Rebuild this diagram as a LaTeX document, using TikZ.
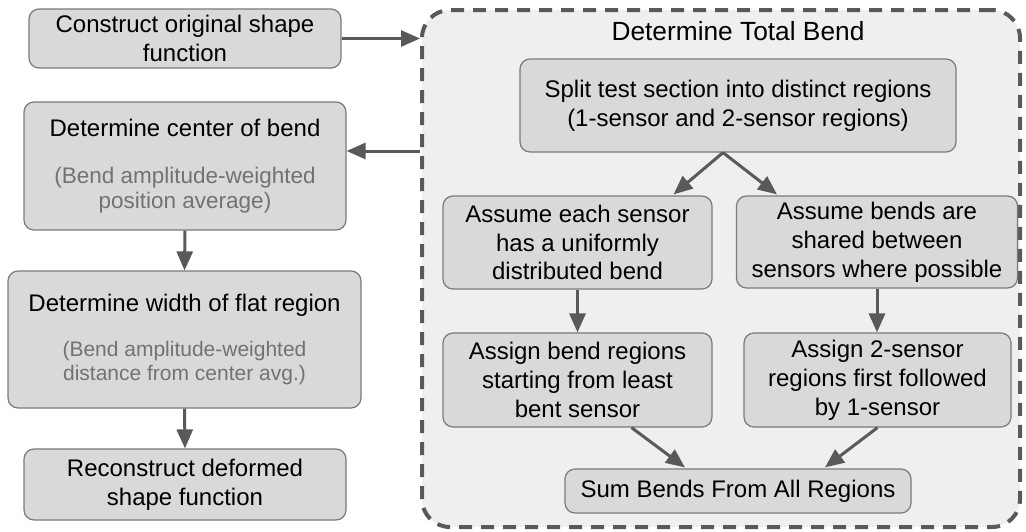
\documentclass[tikz,border=0pt]{standalone}
\usepackage{fontspec}
\setmainfont{Liberation Sans}
\usetikzlibrary{arrows.meta,calc}

\definecolor{boxfill}{HTML}{D9D9D9}
\definecolor{boxline}{HTML}{7A7A7A}
\definecolor{panelfill}{HTML}{EFEFEF}
\definecolor{darkline}{HTML}{595959}
\definecolor{subgray}{HTML}{727272}

% secondary (explanatory) text lines
\newcommand{\subline}[1]{{\color{subgray}\fontsize{22.5}{25}\selectfont #1}}
\newcommand{\sublinesm}[1]{{\color{subgray}\fontsize{21}{25}\selectfont #1}}

\tikzset{
  stepbox/.style={draw=boxline, line width=1.2pt, fill=boxfill,
    rounded corners=10pt, align=center, inner sep=0pt,
    font=\fontsize{24}{28.8}\selectfont},
  panel/.style={draw=darkline, line width=4pt, dash pattern=on 13pt off 9pt,
    fill=panelfill, rounded corners=28pt, inner sep=0pt},
  flow/.style={draw=darkline, line width=3pt,
    -{Triangle[length=19pt,width=16pt]}},
}

\begin{document}
\begin{tikzpicture}[x=1pt,y=-1pt]
\useasboundingbox (0,0) rectangle (1026,531);

% container for the total-bend procedure
\node[panel, minimum width=598, minimum height=517] (K) at (721,268.5) {};
\node[font=\fontsize{26.3}{30}\selectfont] (T) at (738,31.5) {Determine Total Bend};

% left column
\node[stepbox, minimum width=312, minimum height=59] (A) at (185,38.5)
  {Construct original shape\\function};
\node[stepbox, minimum width=322, minimum height=128] (B) at (185,166)
  {Determine center of bend\\[18pt]\subline{(Bend amplitude-weighted}\\[-4pt]\subline{position average)}};
\node[stepbox, minimum width=353, minimum height=137] (C) at (184.5,339.5)
  {Determine width of flat region\\[16pt]\sublinesm{(Bend amplitude-weighted}\\[-4pt]\sublinesm{distance from center avg.)}};
\node[stepbox, minimum width=322, minimum height=71] (D) at (185,484.5)
  {Reconstruct deformed\\shape function};

% right panel
\node[stepbox, minimum width=436, minimum height=93] (E) at (738,105.5)
  {Split test section into distinct regions\\(1-sensor and 2-sensor regions)};
\node[stepbox, minimum width=269, minimum height=93] (F) at (577.5,242.5)
  {Assume each sensor\\has a uniformly\\distributed bend};
\node[stepbox, minimum width=281, minimum height=92] (G) at (877,242)
  {Assume bends are\\shared between\\sensors where possible};
\node[stepbox, minimum width=269, minimum height=94] (H) at (577.5,380)
  {Assign bend regions\\starting from least\\bent sensor};
\node[stepbox, minimum width=267, minimum height=94] (I) at (877.5,380)
  {Assign 2-sensor\\regions first followed\\by 1-sensor};
\node[stepbox, minimum width=346, minimum height=44] (J) at (738,491)
  {Sum Bends From All Regions};

% connectors
\draw[flow] (A.east) -- (A.east -| K.west);
\coordinate (Bin) at ($(B.east)+(0,-15)$);
\draw[flow] (Bin -| K.west) -- (Bin);
\draw[flow] (B.south) -- (C.north);
\draw[flow] (C.south) -- (D.north);

\coordinate (Esplit) at ($(E.south)+(-15,0)$);
\draw[flow] (Esplit) -- ($(F.north)+(96,-1)$);
\draw[flow] (Esplit) -- ($(G.north)+(-100,-1)$);
\draw[flow] (F.south) -- (H.north);
\draw[flow] (G.south) -- (I.north -| G.south);
\draw[flow] ($(H.south)+(54,0)$) -- ($(J.north)+(-53,-1)$);
\draw[flow] (I.south) -- ($(J.north)+(87,-1)$);
\end{tikzpicture}
\end{document}
